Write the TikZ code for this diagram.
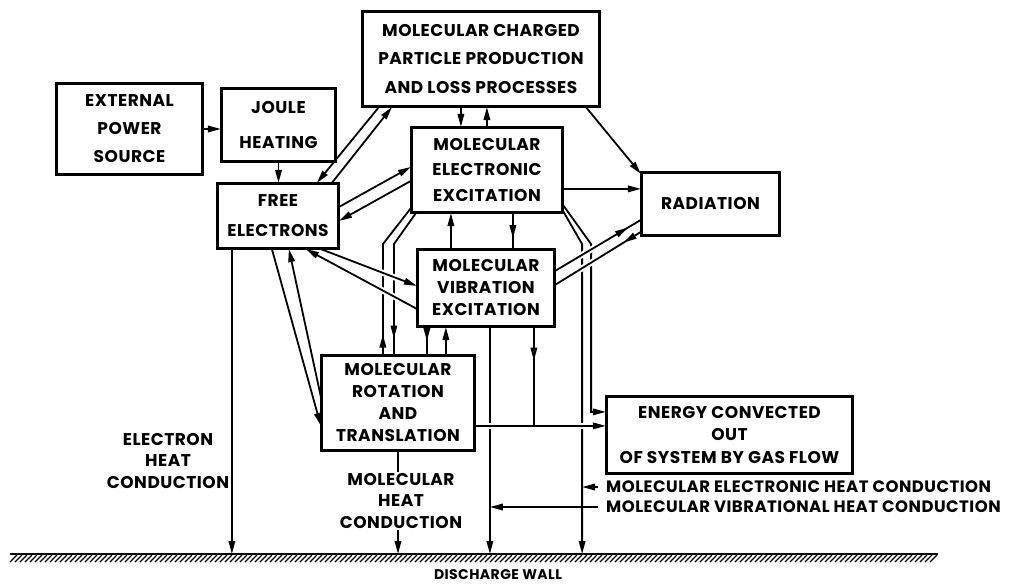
\documentclass[tikz,border=0pt]{standalone}
\usepackage{fontspec}
\setmainfont{Poppins}
\newfontfamily\lblfont{Poppins}[LetterSpace=3]
\newcommand\myfs[2]{\fontsize{#1}{#2}\selectfont}
\usetikzlibrary{arrows.meta,calc,decorations.markings}
\tikzset{
  x=1pt, y=-1pt,
  tip/.tip={Triangle[length=13pt,width=6.5pt]},
  bf/.style={font={\lblfont\bfseries\myfs{17}{#1}}},
  box/.style={draw, line width=2.2pt, inner sep=0pt, align=center},
  lbl/.style={align=center, inner sep=0pt},
  ln/.style={line width=1.8pt},
  con/.style={line width=1.8pt, -tip},
  midarr/.style={postaction={decorate,decoration={markings,
      mark=at position #1 with {\arrow{tip}}}}},
  over/.style={preaction={draw=white,line width=6pt,-,shorten <=6pt,shorten >=6pt}}
}
\begin{document}
\begin{tikzpicture}
\useasboundingbox (0,0) rectangle (1010,584);
% boxes
\node[box,bf=28,minimum width=145pt,minimum height=90pt] (eps) at (129.5,129) {EXTERNAL\\POWER\\SOURCE};
\node[box,bf=35,minimum width=113pt,minimum height=72pt] (joule) at (278.5,125) {JOULE\\HEATING};
\node[box,bf=30,minimum width=120pt,minimum height=64pt] (free) at (278,216) {FREE\\ELECTRONS};
\node[box,bf=28.5,minimum width=236pt,minimum height=94pt] (mc) at (481,59) {MOLECULAR CHARGED\\PARTICLE PRODUCTION\\AND LOSS PROCESSES};
\node[box,bf=25.5,minimum width=150pt,minimum height=84pt] (elec) at (487,170) {MOLECULAR\\ELECTRONIC\\EXCITATION};
\node[box,bf=20,minimum width=137pt,minimum height=62pt] (rad) at (710.5,204) {RADIATION};
\node[box,bf=22,minimum width=136pt,minimum height=76pt] (vib) at (486,288) {MOLECULAR\\VIBRATION\\EXCITATION};
\node[box,bf=22,minimum width=152pt,minimum height=94pt] (rot) at (398,403) {MOLECULAR\\ROTATION\\AND\\TRANSLATION};
\node[box,bf=22.5,minimum width=245pt,minimum height=76pt] (energy) at (729.5,435) {ENERGY CONVECTED\\OUT\\OF SYSTEM BY GAS FLOW};
% wall
\coordinate (wallL) at (10,554);
\coordinate (wallR) at (938,554);
\draw[line width=1.8pt] (wallL) -- (wallR);
\foreach \x in {10,15,...,930} \draw[line width=1.1pt] (\x,562) -- (\x+7,555);
\node[font={\lblfont\bfseries\myfs{14}{16}}] (dw) at (498,575) {DISCHARGE WALL};
% helper coordinates
\coordinate (ecin) at ($(energy.north west)+(0,16)$);
\coordinate (fw) at ($(free.south west)+(15,0)$);
\coordinate (vw) at ($(vib.south west)+(73,0)$);
\coordinate (r1) at ($(rot.north west)+(62,0)$);
\coordinate (r2) at ($(rot.north west)+(73,0)$);
\coordinate (ea) at ($(elec.south east)+(19,31)$);
\coordinate (eb) at ($(elec.south east)+(28,31)$);
% vertical conduction lines
\draw[con] (fw) -- (fw |- wallL);
\draw[con] (rot.south) -- (rot.south |- wallL);
\draw[con] (vw) -- (vw |- wallL);
\draw[con] ($(elec.south east)+(0,-2)$) -- (ea) -- (ea |- wallL);
\draw[con] ($(elec.south east)+(0,-8)$) -- (eb) -- (eb |- ecin) -- (ecin);
% electronic <-> rotation
\draw[ln,midarr=0.13] (r1) -- (r1 |- eb) -- ($(elec.south west)+(0,-5)$);
\draw[ln,midarr=0.89] ($(elec.south west)+(5,0)$) -- (r2 |- eb) -- (r2);
% vibration <-> rotation
\draw[ln,midarr=0.5] ($(vib.south west)+(10,0)$) coordinate (vr1) -- (vr1 |- rot.north);
\draw[con] ($(rot.north west)+(125,0)$) coordinate (vr2) -- (vr2 |- vib.south);
% electronic <-> vibration
\draw[con] ($(vib.north west)+(34,0)$) coordinate (ev1) -- (ev1 |- elec.south);
\draw[ln,midarr=0.7] ($(elec.south west)+(102,0)$) coordinate (ev2) -- (ev2 |- vib.north);
% charged <-> electronic
\draw[con] ($(mc.south west)+(99,0)$) coordinate (me1) -- (me1 |- elec.north);
\draw[con] ($(elec.north west)+(76,0)$) coordinate (me2) -- (me2 |- mc.south);
% to radiation
\draw[con] ($(mc.south west)+(224,0)$) -- ($(rad.north west)+(0,2)$);
\draw[con] ($(elec.north east)+(0,62)$) coordinate (er) -- (er -| rad.west);
\draw[ln,over,midarr=0.85] ($(vib.north east)+(0,22)$) -- ($(rad.north west)+(0,48)$);
\draw[ln,over,midarr=0.2] ($(rad.north west)+(0,60)$) -- ($(vib.north east)+(0,36)$);
% free electrons <-> vibration
\draw[con,over] ($(free.south west)+(104,0)$) -- ($(vib.north west)+(0,37)$);
\draw[con,over] ($(vib.north west)+(0,60)$) -- ($(free.south west)+(89,0)$);
% free electrons <-> rotation
\draw[con] ($(free.south west)+(55,0)$) -- ($(rot.north west)+(0,71)$);
\draw[con] ($(rot.north west)+(0,42)$) -- ($(free.south west)+(72,0)$);
% free electrons <-> electronic
\draw[con] ($(free.north east)+(0,24)$) -- ($(elec.north west)+(0,40)$);
\draw[con] ($(elec.north west)+(0,54)$) -- ($(free.north east)+(0,38)$);
% free electrons <-> charged
\draw[con] ($(mc.south west)+(17,0)$) -- ($(free.north west)+(100,0)$);
\draw[con] ($(free.north west)+(115,0)$) -- ($(mc.south west)+(30,0)$);
% power, joule
\draw[con] (eps.east) -- (eps.east -| joule.west);
\draw[con] (joule.south) -- (joule.south |- free.north);
% rotation -> energy convected
\draw[con,over] ($(rot.north east)+(0,71)$) coordinate (re) -- (re -| energy.west);
\draw[ln,midarr=0.34] ($(vib.south west)+(117,0)$) coordinate (vj) -- (vj |- re);
% labels
\node[lbl,bf=21.5] (ehc) at (168,461) {ELECTRON\\HEAT\\CONDUCTION};
\node[lbl,bf=21.5,fill=white,inner sep=1pt] (mhc) at (401,501) {MOLECULAR\\HEAT\\CONDUCTION};
\node[lbl,font={\lblfont\bfseries\myfs{16.5}{20}},anchor=west,inner xsep=8pt] (l1) at (598,487) {MOLECULAR ELECTRONIC HEAT CONDUCTION};
\node[lbl,font={\lblfont\bfseries\myfs{16.5}{20}},anchor=west,inner xsep=8pt] (l2) at (598,507) {MOLECULAR VIBRATIONAL HEAT CONDUCTION};
\draw[con] (l1.west) -- (l1.west -| ea);
\draw[con] (l2.west) -- (l2.west -| vw);
% redraw box borders on top
\foreach \n in {eps,joule,free,mc,elec,rad,vib,rot,energy}
  \draw[line width=2.2pt] (\n.south west) rectangle (\n.north east);
\end{tikzpicture}
\end{document}
